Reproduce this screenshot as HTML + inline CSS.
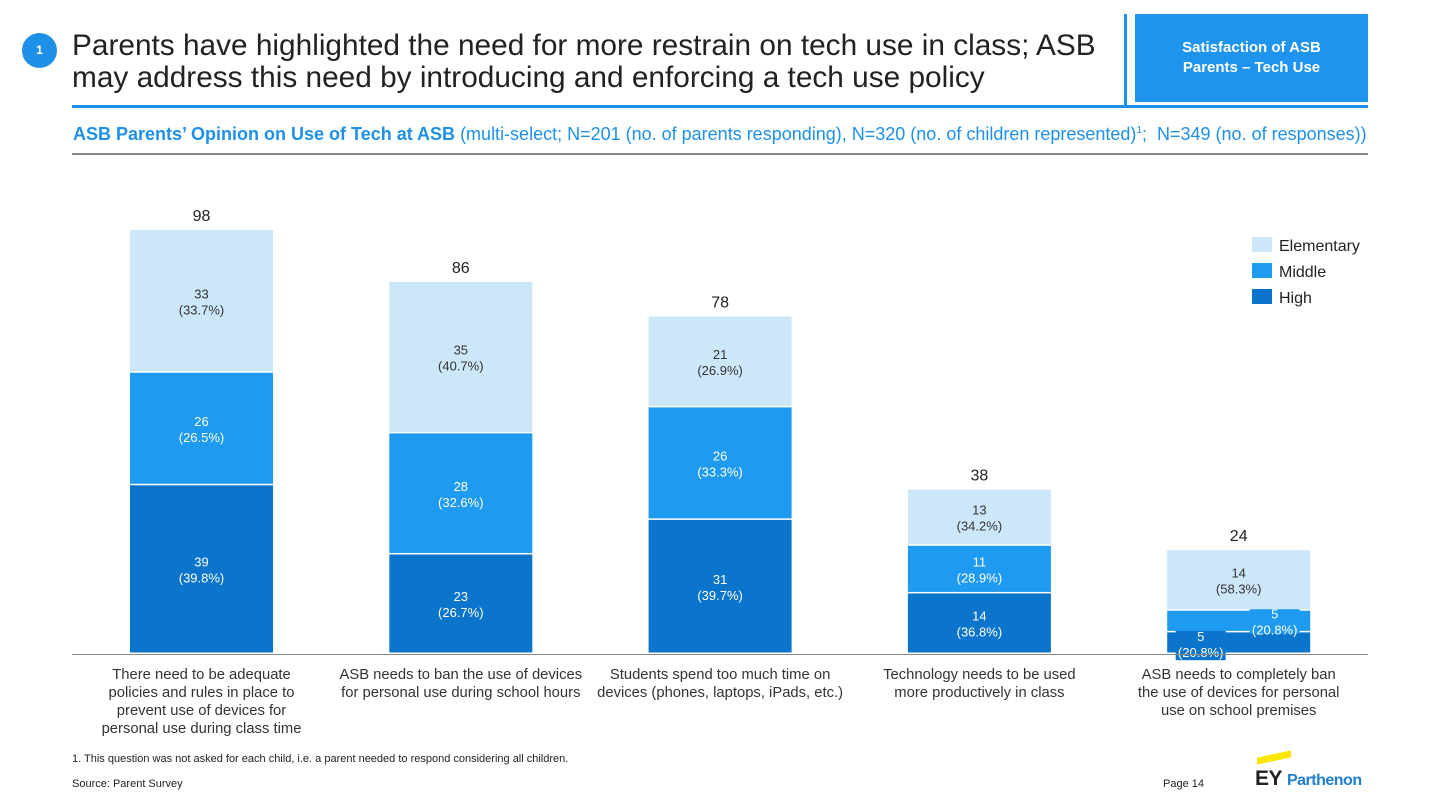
<!DOCTYPE html>
<html><head><meta charset="utf-8"><style>
body{margin:0;width:1441px;height:811px;background:#fff;font-family:"Liberation Sans",Arial,sans-serif;position:relative;overflow:hidden}
.abs{position:absolute}
</style></head><body>
<div class="abs" style="left:22px;top:33px;width:35px;height:35px;border-radius:50%;background:#1e90e8;color:#fff;font-size:12px;font-weight:bold;text-align:center;line-height:35px">1</div>
<div class="abs" style="left:72px;top:30px;width:1050px;font-size:29.8px;line-height:32px;color:#222">Parents have highlighted the need for more restrain on tech use in class; ASB may address this need by introducing and enforcing a tech use policy</div>
<div class="abs" style="left:1124px;top:14px;width:3px;height:92px;background:#1e90e8"></div>
<div class="abs" style="left:1135px;top:14px;width:233px;height:88px;background:#1e94ee;color:#fff;font-weight:bold;font-size:15px;line-height:20px;display:flex;align-items:center;justify-content:center;text-align:center">Satisfaction of ASB<br>Parents – Tech Use</div>
<div class="abs" style="left:72px;top:105px;width:1296px;height:3px;background:#1e90e8"></div>
<div class="abs" style="left:73px;top:124px;font-size:18px;color:#1e90e8;white-space:nowrap"><b>ASB Parents’ Opinion on Use of Tech at ASB</b> (multi-select; N=201 (no. of parents responding), N=320 (no. of children represented)<sup style="font-size:10px">1</sup>;&nbsp; N=349 (no. of responses))</div>
<div class="abs" style="left:72px;top:153px;width:1296px;height:2px;background:#888"></div>
<svg class="abs" id="chart" style="left:0;top:0" width="1441" height="811"></svg>
<div class="abs" style="left:72px;top:753px;font-size:11px;color:#222">1. This question was not asked for each child, i.e. a parent needed to respond considering all children.</div>
<div class="abs" style="left:72px;top:778px;font-size:11px;color:#222">Source: Parent Survey</div>
<div class="abs" style="left:1163px;top:778px;font-size:11px;color:#222">Page 14</div>
<div class="abs" style="left:1255px;top:767px;font-size:21px;font-weight:bold;color:#222;white-space:nowrap;letter-spacing:-0.5px"><span style="position:absolute;left:2px;top:-13px;width:34px;height:7px;background:#ffe600;transform:skewY(-12deg)"></span>EY <span style="color:#1e7fd0;font-size:16px">Parthenon</span></div>
<script>
const categories=["There need to be adequate|policies and rules in place to|prevent use of devices for|personal use during class time","ASB needs to ban the use of devices|for personal use during school hours","Students spend too much time on|devices (phones, laptops, iPads, etc.)","Technology needs to be used|more productively in class","ASB needs to completely ban|the use of devices for personal|use on school premises"];
const high=[39,23,31,14,5];
const middle=[26,28,26,11,5];
const elementary=[33,35,21,13,14];
const totals=[98,86,78,38,24];
const pctHigh=["39.8%","26.7%","39.7%","36.8%","20.8%"];
const pctMiddle=["26.5%","32.6%","33.3%","28.9%","20.8%"];
const pctElem=["33.7%","40.7%","26.9%","34.2%","58.3%"];
const seriesNames=["Elementary","Middle","High"];
const colors={High:"#0b75cb",Middle:"#1e9bf0",Elementary:"#cde7fa"};
const svg=document.getElementById('chart');const NS="http://www.w3.org/2000/svg";
const base=654,scale=424/98;
const y=v=>base-v*scale;
const xc=i=>201.5+i*259.3;const bw=143;
function mk(t,a){const e=document.createElementNS(NS,t);for(const k in a)e.setAttribute(k,a[k]);svg.appendChild(e);return e;}
function txt(x,yy,s,fill,size,name){const t=mk('text',{x:x,y:yy,'text-anchor':'middle','font-size':size,fill:fill,'font-family':'Liberation Sans, Arial, sans-serif'});t.textContent=s;


return t;}
categories.forEach((c,i)=>{
  const segs=[["High",high[i],pctHigh[i]],["Middle",middle[i],pctMiddle[i]],["Elementary",elementary[i],pctElem[i]]];
  let cum=0;
  segs.forEach(([nm,v,p])=>{
    const y0=y(cum+v),h=v*scale;
    const r=mk('rect',{x:xc(i)-bw/2,y:y0,width:bw,height:Math.max(0,h-1.5),fill:colors[nm]});
    
    
    const fc=nm==="Elementary"?"#333":"#fff";
    let lx=xc(i),ly=y0+h/2;
    if(h<30){
      if(nm==="High"){lx=xc(i)-38;ly=y0+h/2+1;
        const bg=mk('rect',{x:lx-25,y:ly-17,width:50,height:33,fill:colors[nm]});
        
        }
      else{lx=xc(i)+36;ly=y0+h/2;
        const bg=mk('rect',{x:lx-25,y:ly-16,width:50,height:28,fill:colors[nm]});
        
        }
    }
    txt(lx,ly-3,String(v),fc,13,'value-label-'+nm.toLowerCase()+'-'+(i+1));
    txt(lx,ly+13,'('+p+')',fc,13,'pct-label-'+nm.toLowerCase()+'-'+(i+1));
    cum+=v;
  });
  txt(xc(i),y(totals[i])-9,String(totals[i]),'#222',16,'total-label-'+(i+1));
  c.split('|').forEach((ln,k)=>txt(xc(i),679+k*18,ln,'#333',14.8,'category-label-'+(i+1)));
});
const ax=mk('line',{x1:72,x2:1368,y1:base+0.5,y2:base+0.5,stroke:'#888','stroke-width':1});


seriesNames.forEach((s,k)=>{
  const r=mk('rect',{x:1252,y:237+k*26,width:20,height:15,fill:colors[s]});
  
  
  const t=txt(1279,251+k*26,s,'#222',16,'legend-entry-'+s.toLowerCase());t.setAttribute('text-anchor','start');
});
</script>
</body></html>
